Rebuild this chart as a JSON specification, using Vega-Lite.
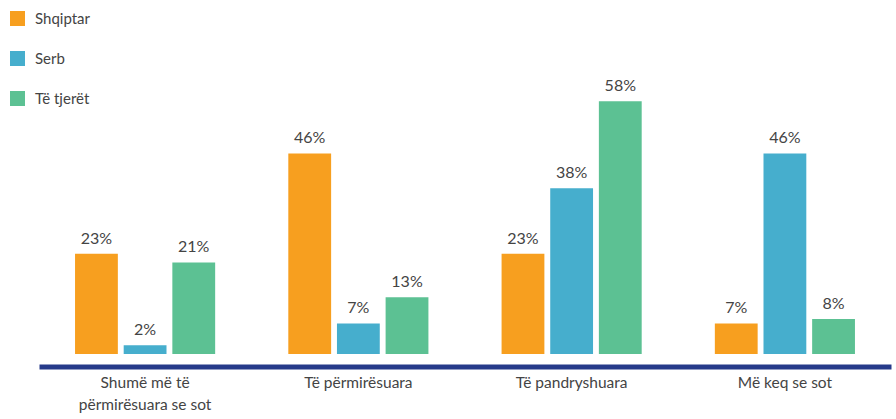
{
  "$schema": "https://vega.github.io/schema/vega-lite/v6.json",
  "width": 852,
  "height": 354,
  "autosize": {"type": "none"},
  "padding": {"left": 39, "top": 0, "right": 5, "bottom": 65},
  "background": "white",
  "config": {"view": {"stroke": null}, "font": "Lato"},
  "data": {"values": [
    {"cat": "Shumë më të përmirësuara se sot", "grp": "Shqiptar", "v": 23},
    {"cat": "Shumë më të përmirësuara se sot", "grp": "Serb", "v": 2},
    {"cat": "Shumë më të përmirësuara se sot", "grp": "Të tjerët", "v": 21},
    {"cat": "Të përmirësuara", "grp": "Shqiptar", "v": 46},
    {"cat": "Të përmirësuara", "grp": "Serb", "v": 7},
    {"cat": "Të përmirësuara", "grp": "Të tjerët", "v": 13},
    {"cat": "Të pandryshuara", "grp": "Shqiptar", "v": 23},
    {"cat": "Të pandryshuara", "grp": "Serb", "v": 38},
    {"cat": "Të pandryshuara", "grp": "Të tjerët", "v": 58},
    {"cat": "Më keq se sot", "grp": "Shqiptar", "v": 7},
    {"cat": "Më keq se sot", "grp": "Serb", "v": 46},
    {"cat": "Më keq se sot", "grp": "Të tjerët", "v": 8}
  ]},
  "transform": [{"calculate": "datum.v + '%'", "as": "lbl"}],
  "encoding": {
    "x": {
      "field": "cat", "type": "nominal", "sort": null,
      "scale": {"paddingInner": 0.343, "paddingOuter": 0.169},
      "axis": {
        "title": null, "labelAngle": 0, "ticks": false,
        "domainColor": "#263A8A", "domainWidth": 5, "offset": 12.5,
        "labelFontSize": 15.5, "labelColor": "#444444", "labelPadding": 9,
        "labelLineHeight": 22, "labelFont": "Lato",
        "labelExpr": "datum.value == 'Shumë më të përmirësuara se sot' ? ['Shumë më të', 'përmirësuara se sot'] : datum.value"
      }
    },
    "xOffset": {"field": "grp", "type": "nominal", "sort": ["Shqiptar", "Serb", "Të tjerët"], "scale": {"paddingInner": 0.12, "paddingOuter": 0}},
    "y": {"field": "v", "type": "quantitative", "scale": {"domain": [0, 81.2]}, "axis": null}
  },
  "layer": [
    {
      "mark": {"type": "bar"},
      "encoding": {
        "color": {
          "field": "grp", "type": "nominal",
          "scale": {"domain": ["Shqiptar", "Serb", "Të tjerët"], "range": ["#F79F1F", "#46AECD", "#5CC193"]},
          "legend": {
            "title": null, "orient": "none", "legendX": -29, "legendY": 11,
            "symbolType": "square", "symbolSize": 225, "symbolStrokeWidth": 0,
            "symbolOpacity": 1, "labelFontSize": 15, "labelColor": "#444444",
            "labelOffset": 10, "rowPadding": 24, "labelFont": "Lato"
          }
        }
      }
    },
    {
      "mark": {"type": "text", "dy": -10, "baseline": "alphabetic", "fontSize": 16, "color": "#444444", "font": "Lato"},
      "encoding": {"text": {"field": "lbl", "type": "nominal"}}
    }
  ]
}
